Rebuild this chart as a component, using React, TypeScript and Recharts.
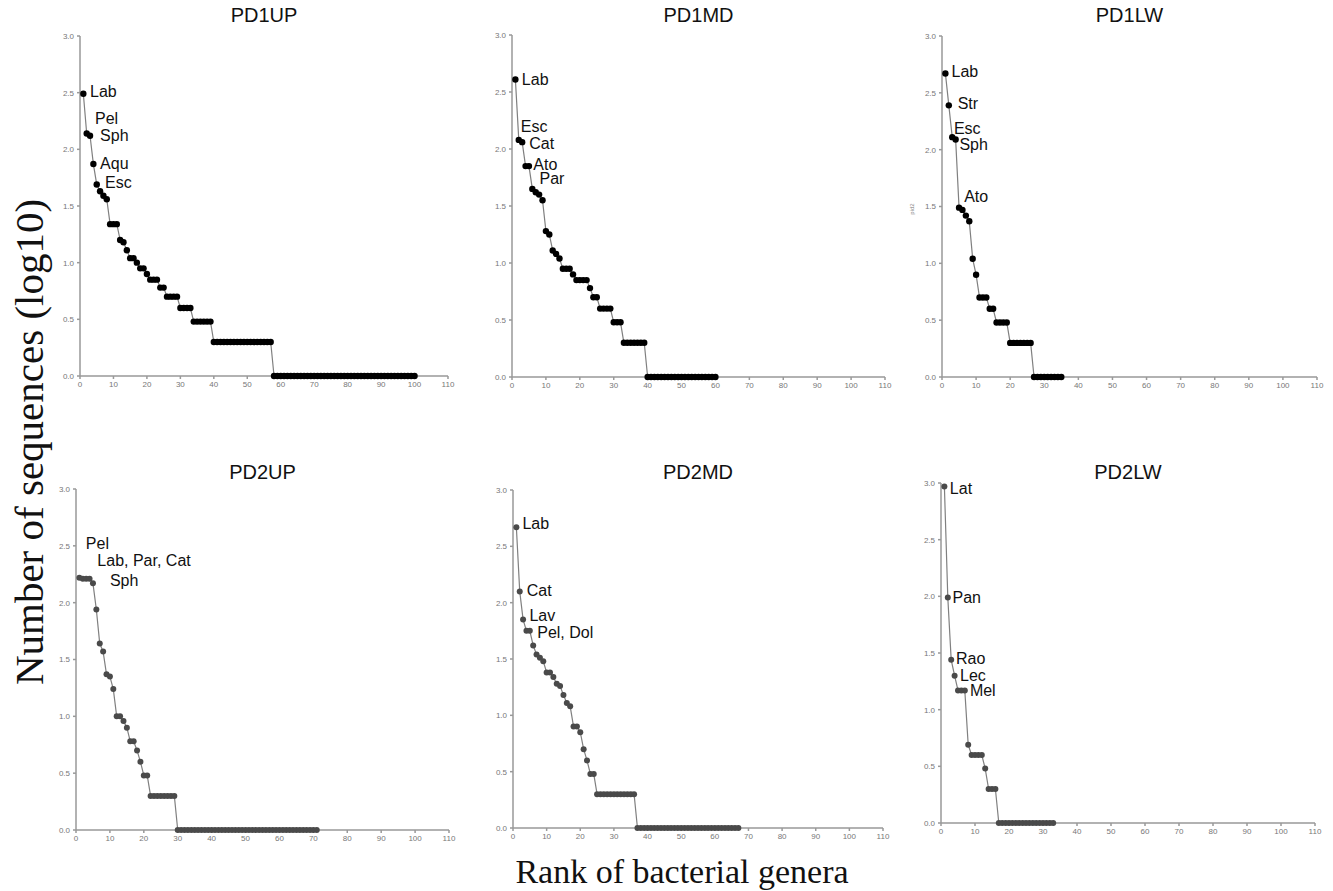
import { LineChart, Line, XAxis, YAxis, ReferenceDot } from 'recharts';

// rank-abundance curves, log10(number of sequences) per genus rank
const RANK_TICKS = [0, 10, 20, 30, 40, 50, 60, 70, 80, 90, 100, 110];
const LOG_TICKS = [0, 0.5, 1, 1.5, 2, 2.5, 3];

const PD1UP = [
  2.49, 2.14, 2.12, 1.87, 1.69, 1.63, 1.59, 1.56, 1.34, 1.34,
  1.34, 1.2, 1.18, 1.11, 1.04, 1.04, 1.0, 0.95, 0.95, 0.9,
  0.85, 0.85, 0.85, 0.78, 0.78, 0.7, 0.7, 0.7, 0.7, 0.6,
  0.6, 0.6, 0.6, 0.48, 0.48, 0.48, 0.48, 0.48, 0.48, 0.3,
  0.3, 0.3, 0.3, 0.3, 0.3, 0.3, 0.3, 0.3, 0.3, 0.3,
  0.3, 0.3, 0.3, 0.3, 0.3, 0.3, 0.3, 0, 0, 0,
  0, 0, 0, 0, 0, 0, 0, 0, 0, 0,
  0, 0, 0, 0, 0, 0, 0, 0, 0, 0,
  0, 0, 0, 0, 0, 0, 0, 0, 0, 0,
  0, 0, 0, 0, 0, 0, 0, 0, 0, 0,
];

const PD1MD = [
  2.61, 2.08, 2.06, 1.85, 1.85, 1.65, 1.62, 1.6, 1.55, 1.28,
  1.25, 1.11, 1.08, 1.04, 0.95, 0.95, 0.95, 0.9, 0.85, 0.85,
  0.85, 0.85, 0.78, 0.7, 0.7, 0.6, 0.6, 0.6, 0.6, 0.48,
  0.48, 0.48, 0.3, 0.3, 0.3, 0.3, 0.3, 0.3, 0.3, 0,
  0, 0, 0, 0, 0, 0, 0, 0, 0, 0,
  0, 0, 0, 0, 0, 0, 0, 0, 0, 0,
];

const PD1LW = [
  2.67, 2.39, 2.11, 2.09, 1.49, 1.47, 1.42, 1.37, 1.04, 0.9,
  0.7, 0.7, 0.7, 0.6, 0.6, 0.48, 0.48, 0.48, 0.48, 0.3,
  0.3, 0.3, 0.3, 0.3, 0.3, 0.3, 0, 0, 0, 0,
  0, 0, 0, 0, 0,
];

const PD2UP = [
  2.22, 2.21, 2.21, 2.21, 2.17, 1.94, 1.64, 1.57, 1.37, 1.35,
  1.24, 1.0, 1.0, 0.96, 0.9, 0.78, 0.78, 0.7, 0.6, 0.48,
  0.48, 0.3, 0.3, 0.3, 0.3, 0.3, 0.3, 0.3, 0.3, 0,
  0, 0, 0, 0, 0, 0, 0, 0, 0, 0,
  0, 0, 0, 0, 0, 0, 0, 0, 0, 0,
  0, 0, 0, 0, 0, 0, 0, 0, 0, 0,
  0, 0, 0, 0, 0, 0, 0, 0, 0, 0,
  0,
];

const PD2MD = [
  2.67, 2.1, 1.85, 1.75, 1.75, 1.62, 1.54, 1.51, 1.48, 1.38,
  1.38, 1.34, 1.28, 1.26, 1.18, 1.11, 1.08, 0.9, 0.9, 0.85,
  0.7, 0.6, 0.48, 0.48, 0.3, 0.3, 0.3, 0.3, 0.3, 0.3,
  0.3, 0.3, 0.3, 0.3, 0.3, 0.3, 0, 0, 0, 0,
  0, 0, 0, 0, 0, 0, 0, 0, 0, 0,
  0, 0, 0, 0, 0, 0, 0, 0, 0, 0,
  0, 0, 0, 0, 0, 0, 0,
];

const PD2LW = [
  2.97, 1.99, 1.44, 1.3, 1.17, 1.17, 1.17, 0.69, 0.6, 0.6,
  0.6, 0.6, 0.48, 0.3, 0.3, 0.3, 0, 0, 0, 0,
  0, 0, 0, 0, 0, 0, 0, 0, 0, 0,
  0, 0, 0,
];

// genus abbreviations, anchored at the left-middle of the text
const PD1UP_NOTES = [
  { text: 'Lab', rank: 3.0, value: 2.51 },
  { text: 'Pel', rank: 4.5, value: 2.27 },
  { text: 'Sph', rank: 6.0, value: 2.12 },
  { text: 'Aqu', rank: 6.0, value: 1.88 },
  { text: 'Esc', rank: 7.5, value: 1.71 },
];
const PD1MD_NOTES = [
  { text: 'Lab', rank: 2.9, value: 2.61 },
  { text: 'Esc', rank: 2.6, value: 2.2 },
  { text: 'Cat', rank: 5.1, value: 2.05 },
  { text: 'Ato', rank: 6.3, value: 1.87 },
  { text: 'Par', rank: 8.1, value: 1.74 },
];
const PD1LW_NOTES = [
  { text: 'Lab', rank: 2.8, value: 2.69 },
  { text: 'Str', rank: 4.6, value: 2.41 },
  { text: 'Esc', rank: 3.5, value: 2.19 },
  { text: 'Sph', rank: 5.1, value: 2.05 },
  { text: 'Ato', rank: 6.5, value: 1.59 },
];
const PD2UP_NOTES = [
  { text: 'Pel', rank: 2.9, value: 2.52 },
  { text: 'Lab, Par, Cat', rank: 6.3, value: 2.37 },
  { text: 'Sph', rank: 10.0, value: 2.2 },
];
const PD2MD_NOTES = [
  { text: 'Lab', rank: 2.8, value: 2.7 },
  { text: 'Cat', rank: 4.1, value: 2.11 },
  { text: 'Lav', rank: 4.9, value: 1.89 },
  { text: 'Pel, Dol', rank: 7.2, value: 1.74 },
];
const PD2LW_NOTES = [
  { text: 'Lat', rank: 2.6, value: 2.95 },
  { text: 'Pan', rank: 3.4, value: 1.99 },
  { text: 'Rao', rank: 4.4, value: 1.45 },
  { text: 'Lec', rank: 5.6, value: 1.3 },
  { text: 'Mel', rank: 8.5, value: 1.17 },
];

type Note = { text: string; rank: number; value: number };
type Rect = { x0: number; x1: number; yTop: number; yBottom: number };

const YW = 28;
const MR = 14;
const MT = 8;
const XH = 18;
const MB = 4;

function Panel({ title, values, notes, rect, dot, r, titleY }: {
  title: string; values: number[]; notes: Note[]; rect: Rect; dot: string; r: number; titleY: number;
}) {
  const data = values.map((v, i) => ({ rank: i + 1, value: v }));
  const left = rect.x0 - YW;
  const top = rect.yTop - MT;
  const width = rect.x1 - left + MR;
  const height = rect.yBottom - top + XH + MB;
  const cx = (rect.x0 + rect.x1) / 2;
  const tick = { fontSize: 8, fill: '#777' };

  return (
    <>
      <div style={{
        position: 'absolute', left: cx - 100, top: titleY - 12, width: 200, height: 24,
        lineHeight: '24px', textAlign: 'center', fontSize: 20, color: '#111',
      }}>{title}</div>
      <div style={{ position: 'absolute', left, top }}>
        <LineChart width={width} height={height} data={data}
          margin={{ top: MT, right: MR, bottom: MB, left: 0 }}>
          <XAxis type="number" dataKey="rank" domain={[0, 110]} ticks={RANK_TICKS}
            height={XH} tick={tick} tickSize={3} tickMargin={2}
            stroke="#999" strokeWidth={1.5} allowDataOverflow />
          <YAxis type="number" domain={[0, 3]} ticks={LOG_TICKS} width={YW}
            tick={tick} tickSize={3} tickMargin={3} stroke="#999" strokeWidth={1.5}
            tickFormatter={(v: number) => v.toFixed(1)} />
          <Line type="linear" dataKey="value" stroke="#808080" strokeWidth={1.2}
            dot={{ r, fill: dot, stroke: 'none' }} activeDot={false}
            isAnimationActive={false} />
          {notes.map(n => (
            <ReferenceDot key={n.text} x={n.rank} y={n.value} r={0}
              fill="none" stroke="none"
              label={{ value: n.text, position: 'right', offset: 0, fontSize: 16, fill: '#111' }} />
          ))}
        </LineChart>
      </div>
    </>
  );
}

export default function App() {
  return (
    <div style={{
      position: 'absolute', left: 0, top: 0, width: 1333, height: 891,
      background: '#fff', fontFamily: '"Liberation Sans", Arial, sans-serif', overflow: 'hidden',
    }}>
      <Panel title="PD1UP" values={PD1UP} notes={PD1UP_NOTES} dot="#000" r={3.2} titleY={15}
        rect={{ x0: 80, x1: 448, yTop: 36, yBottom: 376 }} />
      <Panel title="PD1MD" values={PD1MD} notes={PD1MD_NOTES} dot="#000" r={3.2} titleY={15}
        rect={{ x0: 512, x1: 885, yTop: 35, yBottom: 377 }} />
      <Panel title="PD1LW" values={PD1LW} notes={PD1LW_NOTES} dot="#000" r={3.2} titleY={15}
        rect={{ x0: 942, x1: 1317, yTop: 36, yBottom: 377 }} />
      <Panel title="PD2UP" values={PD2UP} notes={PD2UP_NOTES} dot="#4a4a4a" r={3} titleY={472}
        rect={{ x0: 76, x1: 449, yTop: 489, yBottom: 830 }} />
      <Panel title="PD2MD" values={PD2MD} notes={PD2MD_NOTES} dot="#4a4a4a" r={3} titleY={472}
        rect={{ x0: 513, x1: 883, yTop: 490, yBottom: 828 }} />
      <Panel title="PD2LW" values={PD2LW} notes={PD2LW_NOTES} dot="#4a4a4a" r={3} titleY={472}
        rect={{ x0: 941, x1: 1315, yTop: 483, yBottom: 823 }} />

      <div style={{
        position: 'absolute', left: 912 - 20, top: 209 - 5, width: 40, height: 10,
        lineHeight: '10px', textAlign: 'center', fontSize: 6, color: '#888',
        transform: 'rotate(-90deg)',
      }}>pid2</div>

      <div style={{
        position: 'absolute', left: 29 - 300, top: 442 - 26, width: 600, height: 52,
        lineHeight: '52px', textAlign: 'center', transform: 'rotate(-90deg)',
        fontFamily: '"Liberation Serif", "Times New Roman", serif', fontSize: 41, color: '#111',
      }}>Number of sequences (log10)</div>
      <div style={{
        position: 'absolute', left: 682 - 300, top: 872 - 22, width: 600, height: 44,
        lineHeight: '44px', textAlign: 'center',
        fontFamily: '"Liberation Serif", "Times New Roman", serif', fontSize: 34, color: '#111',
      }}>Rank of bacterial genera</div>
    </div>
  );
}
